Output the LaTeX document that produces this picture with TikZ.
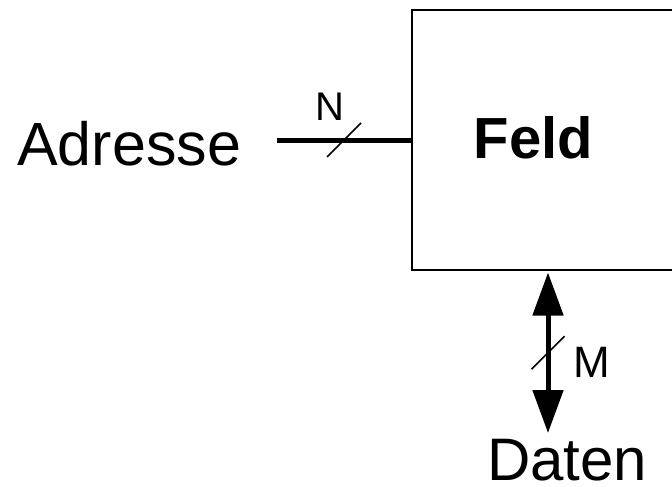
\documentclass[tikz,border=0pt]{standalone}
\usepackage{fontspec}
\setmainfont{Liberation Sans}
\usetikzlibrary{arrows.meta,calc}
\begin{document}
\begin{tikzpicture}[x=1pt,y=-1pt,
  bus/.style={line width=5pt},
  slashline/.style={line width=1.6pt},
  lbl/.style={inner sep=0pt, anchor=base west},
  big/.style={font=\fontsize{61}{72}\selectfont},
]
\useasboundingbox (0,0) rectangle (672,487);
\clip (0,0) rectangle (672,487);
% memory block (right side extends beyond the picture)
\node[draw, line width=2pt, minimum width=272pt, minimum height=260pt, inner sep=0pt] (feld) at (548,140) {};
\node[lbl, font=\fontsize{58}{70}\selectfont\bfseries] (feldtxt) at (473.5,158) {Feld};
% address input
\node[lbl, big] (adr) at (17,165) {Adresse};
\coordinate (ain) at (277,140);
\draw[bus] (ain) -- coordinate (amid) (feld.west);
\draw[slashline] ($(amid)+(-17,17)$) -- ($(amid)+(17,-17)$);
\node[lbl, font=\fontsize{40}{48}\selectfont] (n) at (315,121) {N};
% data port
\coordinate (dtop) at ($(feld.south)+(0,1.5)$);
\coordinate (dbot) at (548,433);
\draw[bus, {Triangle[length=43pt,width=30pt]}-{Triangle[length=43pt,width=30pt]}] (dtop) -- coordinate (dmid) (dbot);
\draw[slashline] ($(dmid)+(-16.5,16.5)$) -- ($(dmid)+(16.5,-16.5)$);
\node[lbl, font=\fontsize{44}{52}\selectfont] (m) at (573.7,377) {M};
\node[lbl, font=\fontsize{60}{70}\selectfont, text depth=0pt] (daten) at (487,480) {Daten};
\end{tikzpicture}
\end{document}
